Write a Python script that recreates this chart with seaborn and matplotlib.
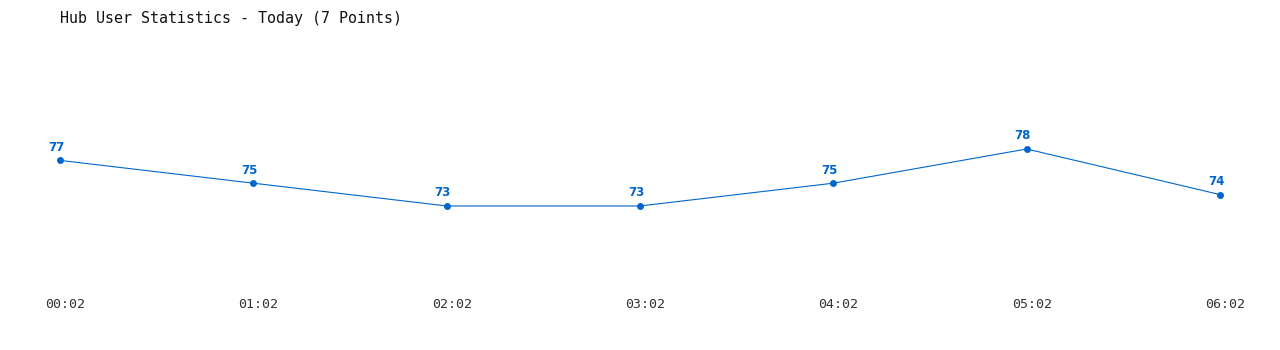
import matplotlib
matplotlib.use("Agg")
import matplotlib.pyplot as plt
import matplotlib.transforms as mtransforms
import seaborn as sns
import pandas as pd

times = ["00:02", "01:02", "02:02", "03:02", "04:02", "05:02", "06:02"]
users = [77, 75, 73, 73, 75, 78, 74]
title = "Hub User Statistics - Today (7 Points)"

sns.set_theme(style="white")
plt.rcParams['font.family'] = ['DejaVu Sans Mono', 'DejaVu Sans']

color = "#0066CC"
df = pd.DataFrame({"idx": range(len(times)), "users": users})

fig = plt.figure(figsize=(12.8, 3.5), dpi=100)
ax = fig.add_axes([60/1280, 1 - 290/350, 1160/1280, 250/350])

sns.lineplot(data=df, x="idx", y="users", ax=ax, color=color, linewidth=0.8,
             marker="o", markersize=5, markeredgewidth=0, markerfacecolor=color)
for ln in ax.get_lines():
    ln.set_clip_on(False)

for i, v in enumerate(users):
    ax.annotate(str(v), (i, v), xytext=(-2.9, 9.4), textcoords="offset points",
                ha="center", va="center", fontsize=8.5, fontweight="bold",
                color=color, family="DejaVu Sans")

ax.set_xlim(0, len(times) - 1)
ax.set_ylim(65.63, 87.56)
ax.set_xticks(range(len(times)))
ax.set_xticklabels(times, fontsize=9.5, color="#333333")
ax.set_yticks([])
ax.set_xlabel("")
ax.set_ylabel("")
ax.tick_params(axis="x", length=0, pad=6)
for s in ax.spines.values():
    s.set_visible(False)

shift = mtransforms.ScaledTranslation(5/100, 0, fig.dpi_scale_trans)
for lbl in ax.get_xticklabels():
    lbl.set_transform(lbl.get_transform() + shift)

fig.text(60/1280, 1 - 18/350, title, ha="left", va="center", fontsize=10.8,
         color="#111111")

fig.savefig("out.png", dpi=100, facecolor="white")
